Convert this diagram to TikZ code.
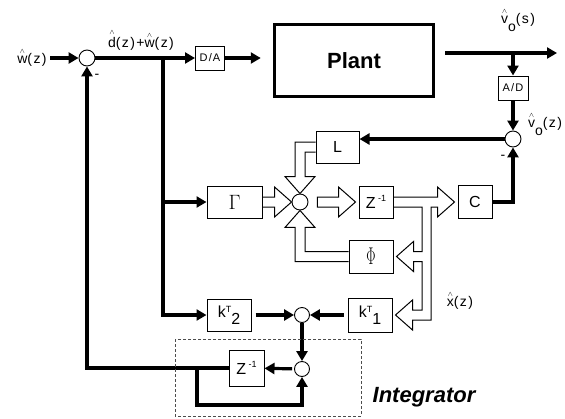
\documentclass[tikz,border=0pt]{standalone}
\usepackage{amsmath}
\usepackage[no-math]{fontspec}
\setmainfont{Liberation Sans}
\newfontfamily\lblfont[LetterSpace=10]{Liberation Sans}
\usetikzlibrary{arrows.meta}
\usetikzlibrary{calc}
\newcommand{\hatted}[1]{\ensuremath{\overset{\scriptscriptstyle\wedge}{\mbox{#1}}}}
\tikzset{blk/.style = {draw, line width = 1pt, inner sep = 0, font = \fontsize{16}{18}\selectfont},
         sumc/.style = {draw, circle, line width = 0.9pt, inner sep = 0, minimum size = 16pt},
         sig/.style = {line width = 3.2pt, -{Triangle[length=10pt, width=11pt]}},
         hol/.style = {line width = 1pt, line join = miter},
         lbl/.style = {font = \fontsize{14}{16}\lblfont},
         tiny/.style = {font = \fontsize{11}{13}\lblfont}}

\begin{document}
\begin{tikzpicture}[x = 1pt, y = -1pt]
    \useasboundingbox (0,0) rectangle (565,418);
    \node[sumc] (s1) at (87,58) {};
    \node[sumc] (s2) at (513,139) {};
    \node[sumc] (s3) at (300,202) {};
    \node[sumc, minimum size = 15pt] (s4) at (302,315) {};
    \node[sumc, minimum size = 15pt] (s5) at (302,369) {};
    \node[blk, tiny, minimum width = 29pt, minimum height = 24pt] (da) at (210,58) {D/A};
    \node[blk, tiny, minimum width = 30pt, minimum height = 24pt] (ad) at (513,88) {A/D};
    \node[blk, line width = 3.5pt, minimum width = 159pt, minimum height = 72pt,
          font = \fontsize{22}{26}\selectfont\bfseries] (plant) at (354,60.5) {Plant};
    \node[blk, minimum width = 55pt, minimum height = 32pt, font = \fontsize{20}{22}\selectfont] (gam) at (234.5,202) {$\Gamma$};
    \node[blk, minimum width = 34pt, minimum height = 32pt] (z1) at (376,202) {Z\,\raisebox{0.8ex}{\small -1}};
    \node[blk, minimum width = 34pt, minimum height = 33pt] (cbox) at (475,202) {C};
    \node[blk, minimum width = 43pt, minimum height = 32pt] (lbox) at (337.5,147) {L};
    \node[blk, minimum width = 44pt, minimum height = 33pt, font = \fontsize{18}{20}\selectfont] (phi) at (371,256.5) {\scalebox{0.8}[1.4]{$\Phi$}};
    \node[blk, minimum width = 44pt, minimum height = 32pt] (k2) at (229,315) {k\raisebox{0.6ex}{\small T}\raisebox{-0.8ex}{2}};
    \node[blk, minimum width = 44pt, minimum height = 34pt] (k1) at (370,315) {k\raisebox{0.6ex}{\small T}\raisebox{-0.8ex}{1}};
    \node[blk, minimum width = 35pt, minimum height = 36pt] (z2) at (246.5,368) {Z\,\raisebox{0.8ex}{\small -1}};
    \node[lbl] (wlab) at (32,57) {\hatted{w}(z)};
    \node[lbl] (dwlab) at (141,40) {\hatted{d}(z)+\hatted{w}(z)};
    \node[lbl] (vslab) at (518,20) {\hatted{v}\raisebox{-1.1ex}{o}(s)};
    \node[lbl] (vzlab) at (545,124) {\hatted{v}\raisebox{-1.1ex}{o}(z)};
    \node[lbl] (xlab) at (460,300) {\hatted{x}(z)};
    \node[font = \fontsize{22}{26}\selectfont\bfseries\itshape] (intlab) at (424,397) {Integrator};
    \node[lbl] (m1) at (97,76) {-};
    \node[lbl] (m2) at (503,157) {-};
    \coordinate (j1) at (163,58);
    \coordinate (j2) at (197,368);
    \coordinate (out) at (557,53);
    \coordinate (busL) at (422,207);
    \coordinate (busR) at (431,207);
    % signal lines
    \draw[sig] (wlab.east |- s1) -- (s1);
    \draw[sig] (s1) -- (da);
    \draw[sig] (da) -- ($(plant.west |- da)+(-12,0)$);
    \draw[sig] ($(plant.east |- out)+(10,0)$) -- (out);
    \draw[sig] (ad |- out) -- (ad);
    \draw[sig] (ad) -- (s2);
    \draw[sig] (s2) -- (s2 -| lbox.east);
    \draw[sig] (cbox.east) -| (s2);
    \draw[sig] (j1) |- (k2);
    \draw[sig] (j1 |- gam) -- (gam);
    \draw[sig, shorten <=4pt] (k2) -- (s4);
    \draw[sig, shorten <=4pt] (k1) -- (s4);
    \draw[sig] (s4) -- (s5);
    \draw[sig, shorten <=2pt] (s5) -- (z2);
    \draw[sig] (z2) -| (s1);
    \draw[sig] (j2) -- ++(0,37) -| (s5);
    % hollow state arrows
    \draw[hol] ($(lbox.west)+(0,-5)$) -| ($(s3.north)+(-5,-17)$) -- ++(-10,0) -- (s3.north)
        -- ++(15,-17) -- ++(-10,0) |- ($(lbox.west)+(0,5)$);
    \draw[hol] ($(gam.east)+(0,-5)$) -- ($(s3.west)+(-17,-5)$) -- ++(0,-10) -- (s3.west)
        -- ++(-17,15) -- ++(0,-10) -- ($(gam.east)+(0,5)$);
    \draw[hol] ($(s3.east)+(9,-5)$) -- ($(z1.west)+(-20,-5)$) -- ++(0,-10) -- ($(z1.west)+(-3,0)$)
        -- ++(-17,15) -- ++(0,-10) -- ($(s3.east)+(9,5)$) -- cycle;
    \draw[hol] ($(phi.west)+(0,-5)$) -| ($(s3.south)+(5,17)$) -- ++(10,0) -- (s3.south)
        -- ++(-15,17) -- ++(10,0) |- ($(phi.west)+(0,5)$);
    \draw[hol] ($(z1.east)+(0,-5)$) -- ($(cbox.west)+(-20,-5)$) -- ++(0,-10) -- ($(cbox.west)+(-3,0)$)
        -- ++(-17,15) -- ++(0,-10) -- (busR) -- ($(busR |- k1.east)+(0,5)$) -- ($(k1.east)+(20,5)$)
        -- ++(0,10) -- ($(k1.east)+(3,0)$) -- ++(17,-15) -- ++(0,10) -- ($(busL |- k1.east)+(0,-5)$)
        -- ($(busL |- phi.east)+(0,5)$) -- ($(phi.east)+(20,5)$) -- ++(0,10) -- ($(phi.east)+(3,0)$)
        -- ++(17,-15) -- ++(0,10) -- ($(busL |- phi.east)+(0,-5)$) -- (busL) -- ($(z1.east)+(0,5)$);
    % integrator
    \draw[dashed, black!70, line width = 0.6pt, dash pattern = on 3pt off 2pt] (175,339) rectangle (361,416);
\end{tikzpicture}
\end{document}
